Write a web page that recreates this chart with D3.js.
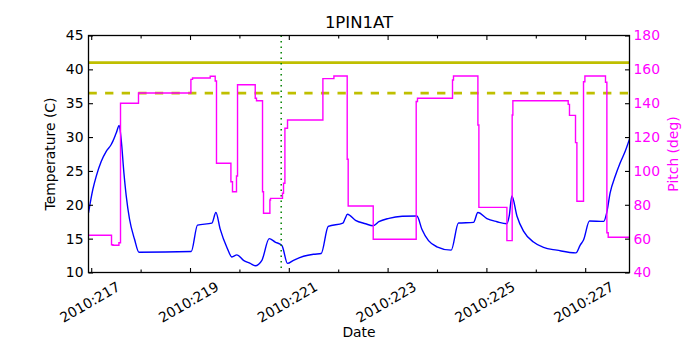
<!DOCTYPE html>
<html>
<head>
<meta charset="utf-8">
<script src="https://cdn.jsdelivr.net/npm/d3@7"></script>
<style>
  html, body { margin: 0; padding: 0; background: #ffffff; }
  svg { display: block; font-family: "DejaVu Sans", sans-serif; }
</style>
</head>
<body>
<svg id="chart" width="700" height="350"></svg>
<script>
// Temperature trace (day-of-year 2010, degrees C)
const tempDays = [
  216.945, 217.034, 217.101, 217.202, 217.304, 217.405, 217.439, 217.506, 217.567,
  217.607, 217.662, 217.709, 217.775, 217.877, 217.966, 219.024, 219.152, 219.443,
  219.524, 219.611, 219.747, 219.848, 219.949, 220.083, 220.219, 220.320, 220.455,
  220.603, 220.725, 220.860, 220.974, 221.095, 221.298, 221.500, 221.656, 221.798,
  222.095, 222.136, 222.188, 222.350, 222.553, 222.709, 222.824, 223.026, 223.296,
  223.593, 223.694, 223.828, 223.998, 224.287, 224.435, 224.739, 224.828, 225.010,
  225.213, 225.415, 225.462, 225.516, 225.618, 225.751, 225.953, 226.156, 226.427,
  226.812, 226.899, 226.966, 227.087, 227.375, 227.436, 227.506, 227.607, 227.709,
  227.810, 227.897
];
const tempValues = [
  18.8, 22.3, 24.2, 26.4, 27.9, 28.9, 29.4, 30.6, 31.7,
  29.6, 24.7, 21.3, 17.9, 14.9, 13.0, 13.1, 17.0, 17.3,
  18.85, 16.4, 13.7, 12.3, 12.6, 11.8, 11.35, 11.0, 11.8,
  15.0, 14.5, 14.0, 11.35, 11.8, 12.4, 12.7, 12.8, 16.8,
  17.3, 17.9, 18.6, 17.7, 17.2, 16.9, 17.5, 18.0, 18.3,
  18.35, 16.4, 14.7, 13.8, 13.3, 17.3, 17.4, 18.85, 17.95,
  17.5, 17.2, 18.35, 21.3, 18.35, 16.1, 14.5, 13.7, 13.3,
  12.9, 14.05, 14.8, 17.6, 17.55, 18.85, 21.8, 24.2, 26.2,
  27.9, 29.7
];

// Pitch attitude (degrees), held constant between commanded changes
const pitchDays = [
  216.945, 217.411, 217.439, 217.561, 217.593, 217.957, 219.018, 219.051, 219.409,
  219.510, 219.536, 219.828, 219.860, 219.941, 219.962, 220.320, 220.346, 220.468,
  220.488, 220.617, 220.630, 220.872, 220.893, 220.921, 220.974, 221.690, 221.913,
  222.182, 222.202, 222.709, 223.579, 223.605, 224.314, 224.334, 224.828, 224.848,
  225.415, 225.522, 225.536, 226.656, 226.682, 226.804, 226.832, 226.966, 226.994,
  227.411, 227.439, 227.466, 227.897
];
const pitchValues = [
  62.0, 56.4, 56.1, 57.6, 140.0, 146.0, 154.1, 154.9, 155.9,
  153.1, 104.5, 93.6, 87.7, 97.0, 150.9, 142.9, 141.5, 87.7,
  75.0, 82.8, 83.8, 86.8, 92.7, 125.2, 130.1, 154.5, 156.1,
  106.9, 79.3, 59.6, 141.0, 142.9, 153.7, 156.1, 127.1, 78.5,
  58.8, 133.0, 141.5, 139.3, 132.8, 116.7, 82.1, 152.7, 156.1,
  152.4, 63.5, 60.8, 60.8
];

// Temperature limits and the marked event time
const limitSolid = 41.0;
const limitDashed = 36.5;
const markerDay = 220.846;

// Axis ranges and ticks
const dayRange = [216.945, 227.897];
const tempRange = [10, 45];
const pitchRange = [40, 180];
const dayMajorTicks = [217, 219, 221, 223, 225, 227];
const dayMinorTicks = [218, 220, 222, 224, 226];
const tempTicks = [10, 15, 20, 25, 30, 35, 40, 45];
const pitchTicks = [40, 60, 80, 100, 120, 140, 160, 180];

const svg = d3.select("#chart");
const pL = 88.5, pR = 629.5, pT = 35.5, pB = 272.5;
const FS = 13.9;

const x = d3.scaleLinear().domain(dayRange).range([pL, pR]);
const yT = d3.scaleLinear().domain(tempRange).range([pB, pT]);
const yP = d3.scaleLinear().domain(pitchRange).range([pB, pT]);

const plot = svg.append("g");
plot.append("defs").append("clipPath").attr("id", "clip")
  .append("rect").attr("x", pL).attr("y", pT)
  .attr("width", pR - pL).attr("height", pB - pT);

const lines = plot.append("g").attr("clip-path", "url(#clip)");

// temperature
lines.append("path")
  .datum(tempDays.map((d, i) => [d, tempValues[i]]))
  .attr("fill", "none").attr("stroke", "#0000ff").attr("stroke-width", 1.4)
  .attr("stroke-linejoin", "round")
  .attr("d", d3.line().curve(d3.curveMonotoneX).x(d => x(d[0])).y(d => yT(d[1])));

// limit lines
lines.append("line")
  .attr("x1", pL).attr("x2", pR)
  .attr("y1", yT(limitSolid)).attr("y2", yT(limitSolid))
  .attr("stroke", "#bfbf00").attr("stroke-width", 2.8);
lines.append("line")
  .attr("x1", pL).attr("x2", pR)
  .attr("y1", yT(limitDashed)).attr("y2", yT(limitDashed))
  .attr("stroke", "#bfbf00").attr("stroke-width", 2.8)
  .attr("stroke-dasharray", "8.3,8.3");

// event marker
lines.append("line")
  .attr("x1", x(markerDay)).attr("x2", x(markerDay))
  .attr("y1", pT).attr("y2", pB)
  .attr("stroke", "#008000").attr("stroke-width", 1.5)
  .attr("stroke-dasharray", "1.5,4");

// pitch
lines.append("path")
  .datum(pitchDays.map((d, i) => [d, pitchValues[i]]))
  .attr("fill", "none").attr("stroke", "#ff00ff").attr("stroke-width", 1.4)
  .attr("d", d3.line().curve(d3.curveStepAfter).x(d => x(d[0])).y(d => yP(d[1])));

// frame
plot.append("rect")
  .attr("x", pL).attr("y", pT)
  .attr("width", pR - pL).attr("height", pB - pT)
  .attr("fill", "none").attr("stroke", "#000").attr("stroke-width", 1.3);

function styleAxis(g) {
  g.select(".domain").remove();
  g.selectAll(".tick line").attr("stroke", "#000").attr("stroke-width", 1.1);
  g.selectAll("text").attr("font-family", "DejaVu Sans, sans-serif").attr("font-size", FS);
}

// x ticks, bottom and top, pointing inward
const xb = plot.append("g").attr("transform", `translate(0,${pB})`)
  .call(d3.axisBottom(x).tickValues(dayMajorTicks).tickSize(-4.5).tickFormat(""));
styleAxis(xb);
const xbm = plot.append("g").attr("transform", `translate(0,${pB})`)
  .call(d3.axisBottom(x).tickValues(dayMinorTicks).tickSize(-3).tickFormat(""));
styleAxis(xbm);
const xt = plot.append("g").attr("transform", `translate(0,${pT})`)
  .call(d3.axisTop(x).tickValues(dayMajorTicks).tickSize(-4.5).tickFormat(""));
styleAxis(xt);
const xtm = plot.append("g").attr("transform", `translate(0,${pT})`)
  .call(d3.axisTop(x).tickValues(dayMinorTicks).tickSize(-3).tickFormat(""));
styleAxis(xtm);

// rotated date labels
plot.append("g").selectAll("text")
  .data(dayMajorTicks).join("text")
  .attr("transform", d => `translate(${x(d) - 1.5},302) rotate(-30)`)
  .attr("text-anchor", "middle").attr("dominant-baseline", "central")
  .attr("font-size", FS).attr("fill", "#000")
  .text(d => "2010:" + d);

// left temperature axis
const yl = plot.append("g").attr("transform", `translate(${pL},0)`)
  .call(d3.axisLeft(yT).tickValues(tempTicks).tickSize(-4.5).tickPadding(5).tickFormat(d3.format("d")));
styleAxis(yl);
yl.selectAll("text").attr("fill", "#000");

// right pitch axis
const yr = plot.append("g").attr("transform", `translate(${pR},0)`)
  .call(d3.axisRight(yP).tickValues(pitchTicks).tickSize(-4.5).tickPadding(4).tickFormat(d3.format("d")));
styleAxis(yr);
yr.selectAll("text").attr("fill", "#ff00ff");

// titles
svg.append("text").attr("x", (pL + pR) / 2).attr("y", 28)
  .attr("text-anchor", "middle").attr("font-size", 16.5).attr("fill", "#000")
  .text("1PIN1AT");
svg.append("text").attr("x", (pL + pR) / 2).attr("y", 337)
  .attr("text-anchor", "middle").attr("font-size", FS).attr("fill", "#000")
  .text("Date");
svg.append("text")
  .attr("transform", `translate(55,${(pT + pB) / 2}) rotate(-90)`)
  .attr("text-anchor", "middle").attr("font-size", FS).attr("fill", "#000")
  .text("Temperature (C)");
svg.append("text")
  .attr("transform", `translate(678,${(pT + pB) / 2}) rotate(-90)`)
  .attr("text-anchor", "middle").attr("font-size", FS).attr("fill", "#ff00ff")
  .text("Pitch (deg)");
</script>
</body>
</html>
